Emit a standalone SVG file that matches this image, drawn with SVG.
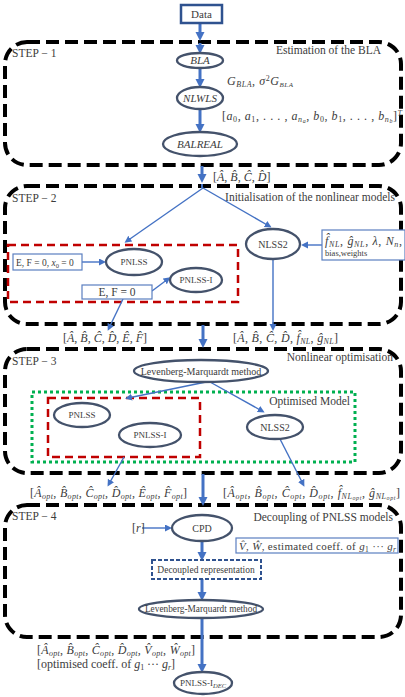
<svg xmlns="http://www.w3.org/2000/svg" width="405" height="697" viewBox="0 0 405 697">
<defs>
<marker id="ah" markerUnits="userSpaceOnUse" markerWidth="10" markerHeight="10" refX="5" refY="5" orient="auto"><path d="M0,0.5 L9,5 L0,9.5 z" fill="#4472c4"/></marker>
<marker id="at" markerUnits="userSpaceOnUse" markerWidth="8" markerHeight="8" refX="4" refY="3.5" orient="auto"><path d="M0,0 L7,3.5 L0,7 z" fill="#4472c4"/></marker>
</defs>
<style>
text{font-family:"Liberation Serif","DejaVu Serif",serif;fill:#3c3c3c}
.step{fill:none;stroke:#000;stroke-width:4;stroke-dasharray:13 6}
.node{fill:#fff;stroke:#44526b;stroke-width:2.3}
.box{fill:#fff;stroke:#5b7fc0;stroke-width:1.2}
.thick{stroke:#4472c4;stroke-width:3;fill:none;marker-end:url(#ah)}
.thin{stroke:#4472c4;stroke-width:1.4;fill:none;marker-end:url(#at)}
.red{fill:none;stroke:#c00000;stroke-width:2.5;stroke-dasharray:8 5}
.m{font-style:italic}
.h{font-size:11.5px;text-anchor:end}
.s{font-size:11.5px}
.c{text-anchor:middle}
.lab{font-size:12px}
</style>
<rect width="405" height="697" fill="#fff"/>

<g id="step1">
<rect class="step" x="5" y="42" width="396" height="123" rx="22"/>
<text class="s" x="12" y="57">STEP − 1</text>
<text class="h" x="381" y="54">Estimation of the BLA</text>
</g>
<g id="step2">
<rect class="step" x="5" y="186" width="396" height="138" rx="22"/>
<text class="s" x="12" y="202">STEP − 2</text>
<text class="h" x="395" y="201">Initialisation of the nonlinear models</text>
</g>
<g id="step3">
<rect class="step" x="5" y="349" width="396" height="124" rx="22"/>
<text class="s" x="12" y="365">STEP − 3</text>
<text class="h" x="393" y="361">Nonlinear optimisation</text>
</g>
<g id="step4">
<rect class="step" x="5" y="505" width="396" height="132" rx="22"/>
<text class="s" x="12" y="520">STEP − 4</text>
<text class="h" x="393" y="521">Decoupling of PNLSS models</text>
</g>

<g id="groups">
<rect class="red" x="8" y="245" width="230" height="57"/>
<rect fill="none" stroke="#00b050" stroke-width="3" stroke-dasharray="3 3" x="32" y="392" width="323" height="70"/>
<text class="h" x="350" y="405">Optimised Model</text>
<rect class="red" x="48" y="398" width="152" height="59"/>
</g>

<g id="connectors">
<line class="thick" x1="200" y1="23" x2="200" y2="37"/>
<line class="thick" x1="200" y1="43" x2="200" y2="50"/>
<line class="thick" x1="200" y1="68" x2="200" y2="84"/>
<line class="thick" x1="200" y1="109" x2="200" y2="129"/>
<line class="thick" x1="202" y1="166" x2="202" y2="179"/>
<line stroke="#4472c4" stroke-width="2" x1="202" y1="184" x2="202" y2="188"/>
<line class="thin" stroke-width="1.6" x1="203" y1="188" x2="127" y2="241"/>
<line class="thin" stroke-width="1.6" x1="203" y1="188" x2="269" y2="226"/>
<line class="thin" x1="82" y1="262" x2="103" y2="262"/>
<line class="thin" x1="152" y1="291" x2="168" y2="279"/>
<line class="thin" stroke-width="1" x1="123" y1="299" x2="109" y2="328"/>
<line class="thin" x1="322" y1="245" x2="304" y2="245"/>
<line class="thin" stroke-width="1.2" x1="273" y1="259" x2="273" y2="328"/>
<line class="thick" x1="203" y1="325" x2="203" y2="344"/>
<line class="thin" x1="206" y1="382" x2="128" y2="398"/>
<line class="thin" x1="210" y1="382" x2="262" y2="411"/>
<line class="thin" stroke-width="1" x1="124" y1="457" x2="109" y2="484"/>
<line class="thin" stroke-width="1" x1="280" y1="439" x2="303" y2="484"/>
<line class="thick" x1="203" y1="474" x2="203" y2="502"/>
<line class="thin" stroke-width="2" x1="142" y1="528" x2="169" y2="528"/>
<line class="thick" x1="202" y1="541" x2="202" y2="557"/>
<line class="thick" x1="202" y1="579" x2="202" y2="597"/>
<line class="thick" x1="202" y1="618" x2="202" y2="669"/>
</g>

<g id="data">
<rect x="181" y="5" width="41" height="18" fill="#fff" stroke="#2f528f" stroke-width="2.5"/>
<text class="c" x="201.5" y="18" font-size="11">Data</text>
</g>
<g id="bla">
<ellipse class="node" cx="200" cy="60.5" rx="23" ry="7.5"/>
<text class="c m" x="200" y="64" font-size="11">BLA</text>
</g>
<g id="nlwls">
<ellipse class="node" cx="200" cy="98" rx="23" ry="11"/>
<text class="c m" x="200" y="102" font-size="11">NLWLS</text>
</g>
<g id="balreal">
<ellipse class="node" cx="200" cy="144" rx="37" ry="12"/>
<text class="c m" x="200" y="148" font-size="11">BALREAL</text>
</g>
<text class="lab" x="227" y="85" textLength="66"><tspan class="m">G</tspan><tspan class="m" font-size="8" dy="2">BLA</tspan><tspan dy="-2">, </tspan><tspan class="m">σ</tspan><tspan font-size="8" dy="-4">2</tspan><tspan class="m" dy="4">G</tspan><tspan class="m" font-size="7" dy="2">BLA</tspan></text>
<text class="lab" x="222" y="120" textLength="180"><tspan>[</tspan><tspan class="m">a</tspan><tspan font-size="8" dy="2">0</tspan><tspan dy="-2">, </tspan><tspan class="m">a</tspan><tspan font-size="8" dy="2">1</tspan><tspan dy="-2">, . . . , </tspan><tspan class="m">a</tspan><tspan class="m" font-size="8" dy="2">n</tspan><tspan class="m" font-size="6" dy="1">a</tspan><tspan dy="-3">, </tspan><tspan class="m">b</tspan><tspan font-size="8" dy="2">0</tspan><tspan dy="-2">, </tspan><tspan class="m">b</tspan><tspan font-size="8" dy="2">1</tspan><tspan dy="-2">, . . . , </tspan><tspan class="m">b</tspan><tspan class="m" font-size="8" dy="2">n</tspan><tspan class="m" font-size="6" dy="1">b</tspan><tspan dy="-3">]</tspan><tspan class="m" font-size="8" dy="-4">T</tspan></text>
<text class="lab" x="213" y="181">[<tspan class="m">Â</tspan>, <tspan class="m">B̂</tspan>, <tspan class="m">Ĉ</tspan>, <tspan class="m">D̂</tspan>]</text>

<g id="e1">
<rect class="box" x="13" y="254" width="69" height="16"/>
<text x="16" y="265.5" font-size="9.5">E, F = 0, <tspan class="m">x</tspan><tspan font-size="6.5" dy="2">0</tspan><tspan dy="-2"> = 0</tspan></text>
</g>
<g id="pnlss2">
<ellipse class="node" cx="134" cy="262" rx="28" ry="13"/>
<text class="c" x="134" y="265" font-size="9">PNLSS</text>
</g>
<g id="pnlssi2">
<ellipse class="node" cx="196" cy="280" rx="26" ry="12"/>
<text class="c" x="196" y="283" font-size="9">PNLSS-I</text>
</g>
<g id="e2">
<rect class="box" x="82" y="285" width="70" height="14"/>
<text class="c" x="117" y="296" font-size="11.5">E, F = 0</text>
</g>
<g id="nlss2a">
<ellipse class="node" cx="273" cy="244" rx="27" ry="15"/>
<text class="c" x="273" y="248" font-size="10">NLSS2</text>
</g>
<g id="fnl">
<rect class="box" x="322" y="230" width="83" height="30"/>
<text class="lab" x="325" y="245" textLength="77"><tspan class="m">f̂</tspan><tspan class="m" font-size="8" dy="2">NL</tspan><tspan dy="-2">, </tspan><tspan class="m">ĝ</tspan><tspan class="m" font-size="8" dy="2">NL</tspan><tspan dy="-2">, </tspan><tspan class="m">λ</tspan><tspan>, </tspan><tspan class="m">N</tspan><tspan class="m" font-size="8" dy="2">n</tspan><tspan dy="-2">,</tspan></text>
<text x="325" y="256" font-size="8.5">bias,weights</text>
</g>
<text class="lab" x="63" y="342" textLength="84">[<tspan class="m">Â</tspan>, <tspan class="m">B̂</tspan>, <tspan class="m">Ĉ</tspan>, <tspan class="m">D̂</tspan>, <tspan class="m">Ê</tspan>, <tspan class="m">F̂</tspan>]</text>
<text class="lab" x="233" y="342" textLength="105"><tspan>[</tspan><tspan class="m">Â</tspan><tspan>, </tspan><tspan class="m">B̂</tspan><tspan>, </tspan><tspan class="m">Ĉ</tspan><tspan>, </tspan><tspan class="m">D̂</tspan><tspan>, </tspan><tspan class="m">f̂</tspan><tspan class="m" font-size="8" dy="2">NL</tspan><tspan dy="-2">, </tspan><tspan class="m">ĝ</tspan><tspan class="m" font-size="8" dy="2">NL</tspan><tspan dy="-2">]</tspan></text>

<g id="lm1">
<ellipse class="node" cx="201" cy="371" rx="67" ry="11"/>
<text class="c" x="201" y="374.5" font-size="10">Levenberg-Marquardt method</text>
</g>
<g id="pnlss3">
<ellipse class="node" cx="82" cy="415" rx="28" ry="12"/>
<text class="c" x="82" y="418" font-size="9">PNLSS</text>
</g>
<g id="pnlssi3">
<ellipse class="node" cx="150" cy="435" rx="31" ry="12"/>
<text class="c" x="150" y="438" font-size="9">PNLSS-I</text>
</g>
<g id="nlss2b">
<ellipse class="node" cx="275" cy="427" rx="28" ry="12"/>
<text class="c" x="275" y="431" font-size="10">NLSS2</text>
</g>
<text class="lab" x="30" y="497" textLength="157"><tspan>[</tspan><tspan class="m">Â</tspan><tspan class="m" font-size="8" dy="2">opt</tspan><tspan dy="-2">, </tspan><tspan class="m">B̂</tspan><tspan class="m" font-size="8" dy="2">opt</tspan><tspan dy="-2">, </tspan><tspan class="m">Ĉ</tspan><tspan class="m" font-size="8" dy="2">opt</tspan><tspan dy="-2">, </tspan><tspan class="m">D̂</tspan><tspan class="m" font-size="8" dy="2">opt</tspan><tspan dy="-2">, </tspan><tspan class="m">Ê</tspan><tspan class="m" font-size="8" dy="2">opt</tspan><tspan dy="-2">, </tspan><tspan class="m">F̂</tspan><tspan class="m" font-size="8" dy="2">opt</tspan><tspan dy="-2">]</tspan></text>
<text class="lab" x="223" y="497" textLength="177"><tspan>[</tspan><tspan class="m">Â</tspan><tspan class="m" font-size="8" dy="2">opt</tspan><tspan dy="-2">, </tspan><tspan class="m">B̂</tspan><tspan class="m" font-size="8" dy="2">opt</tspan><tspan dy="-2">, </tspan><tspan class="m">Ĉ</tspan><tspan class="m" font-size="8" dy="2">opt</tspan><tspan dy="-2">, </tspan><tspan class="m">D̂</tspan><tspan class="m" font-size="8" dy="2">opt</tspan><tspan dy="-2">, </tspan><tspan class="m">f̂</tspan><tspan class="m" font-size="8" dy="2">NL</tspan><tspan class="m" font-size="6" dy="1">opt</tspan><tspan dy="-3">, </tspan><tspan class="m">ĝ</tspan><tspan class="m" font-size="8" dy="2">NL</tspan><tspan class="m" font-size="6" dy="1">opt</tspan><tspan dy="-3">]</tspan></text>

<g id="cpd">
<ellipse class="node" cx="202" cy="528" rx="30" ry="13"/>
<text class="c" x="202" y="532" font-size="10">CPD</text>
</g>
<text class="lab" x="132" y="532">[<tspan class="m">r</tspan>]</text>
<g id="vw">
<rect class="box" x="236" y="538" width="162" height="15"/>
<text x="239" y="550" font-size="11" textLength="157"><tspan class="m">V̂</tspan><tspan>, </tspan><tspan class="m">Ŵ</tspan><tspan>, estimated coeff. of </tspan><tspan class="m">g</tspan><tspan font-size="7.5" dy="2">1</tspan><tspan dy="-2"> ··· </tspan><tspan class="m">g</tspan><tspan class="m" font-size="7.5" dy="2">r</tspan></text>
</g>
<g id="decoupled">
<rect x="152" y="560" width="109" height="19" fill="#fff" stroke="#2f528f" stroke-width="2" stroke-dasharray="4 2"/>
<text class="c" x="206" y="573" font-size="9.5">Decoupled representation</text>
</g>
<g id="lm2">
<ellipse class="node" cx="201" cy="609" rx="62" ry="9"/>
<text class="c" x="201" y="612" font-size="9.3">Levenberg-Marquardt method</text>
</g>
<text class="lab" x="37" y="654" textLength="158"><tspan>[</tspan><tspan class="m">Â</tspan><tspan class="m" font-size="8" dy="2">opt</tspan><tspan dy="-2">, </tspan><tspan class="m">B̂</tspan><tspan class="m" font-size="8" dy="2">opt</tspan><tspan dy="-2">, </tspan><tspan class="m">Ĉ</tspan><tspan class="m" font-size="8" dy="2">opt</tspan><tspan dy="-2">, </tspan><tspan class="m">D̂</tspan><tspan class="m" font-size="8" dy="2">opt</tspan><tspan dy="-2">, </tspan><tspan class="m">V̂</tspan><tspan class="m" font-size="8" dy="2">opt</tspan><tspan dy="-2">, </tspan><tspan class="m">Ŵ</tspan><tspan class="m" font-size="8" dy="2">opt</tspan><tspan dy="-2">]</tspan></text>
<text class="lab" x="37" y="668" textLength="138"><tspan>[optimised coeff. of </tspan><tspan class="m">g</tspan><tspan font-size="8" dy="2">1</tspan><tspan dy="-2"> ··· </tspan><tspan class="m">g</tspan><tspan class="m" font-size="8" dy="2">r</tspan><tspan dy="-2">]</tspan></text>
<g id="pnlssidec">
<ellipse class="node" cx="203" cy="683" rx="29" ry="11"/>
<text class="c" x="203" y="686" font-size="9">PNLSS-I<tspan class="m" font-size="6.5" dy="2">DEC</tspan></text>
</g>
</svg>
